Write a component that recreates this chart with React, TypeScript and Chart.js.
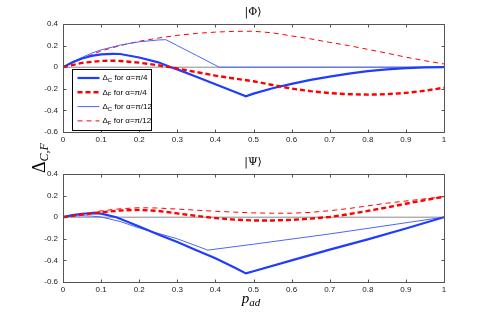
import React, { useEffect, useRef } from "react";
import { Chart, registerables } from "chart.js";
Chart.register(...registerables);

// ---------- data: |Φ> panel ----------
const phiC4X = [0, 0.025, 0.05, 0.075, 0.1, 0.13, 0.15, 0.2, 0.25, 0.28, 0.3, 0.35, 0.4, 0.45, 0.48, 0.5, 0.55, 0.6, 0.65, 0.7, 0.75, 0.8, 0.85, 0.9, 0.95, 1];
const phiC4Y = [0, 0.045, 0.08, 0.105, 0.118, 0.124, 0.122, 0.09, 0.045, 0.005, -0.02, -0.088, -0.158, -0.228, -0.27, -0.245, -0.195, -0.155, -0.118, -0.087, -0.06, -0.037, -0.02, -0.008, -0.002, 0];

const phiF4X = [0, 0.05, 0.1, 0.13, 0.15, 0.2, 0.25, 0.3, 0.35, 0.4, 0.45, 0.5, 0.55, 0.6, 0.65, 0.7, 0.75, 0.8, 0.85, 0.9, 0.95, 1];
const phiF4Y = [0, 0.04, 0.058, 0.06, 0.058, 0.042, 0.018, -0.012, -0.045, -0.078, -0.105, -0.13, -0.165, -0.198, -0.222, -0.24, -0.25, -0.254, -0.25, -0.238, -0.218, -0.19];

const phiC12X = [0, 0.025, 0.05, 0.075, 0.1, 0.15, 0.2, 0.25, 0.27, 0.3, 0.35, 0.41, 0.5, 0.6, 0.7, 0.8, 0.9, 1];
const phiC12Y = [0, 0.05, 0.09, 0.13, 0.16, 0.205, 0.235, 0.252, 0.255, 0.2, 0.11, 0, 0, 0, 0, 0, 0, 0];

const phiF12X = [0, 0.05, 0.1, 0.15, 0.2, 0.25, 0.3, 0.35, 0.4, 0.45, 0.5, 0.55, 0.6, 0.65, 0.7, 0.75, 0.8, 0.85, 0.9, 0.95, 1];
const phiF12Y = [0, 0.08, 0.15, 0.2, 0.24, 0.27, 0.295, 0.313, 0.325, 0.332, 0.333, 0.318, 0.29, 0.262, 0.23, 0.2, 0.165, 0.13, 0.093, 0.06, 0.03];

// ---------- data: |Ψ> panel ----------
const psiC4X = [0, 0.025, 0.05, 0.08, 0.1, 0.14, 0.2, 0.25, 0.3, 0.35, 0.4, 0.45, 0.48, 0.5, 0.6, 0.7, 0.8, 0.9, 1];
const psiC4Y = [0, 0.02, 0.032, 0.037, 0.033, 0, -0.087, -0.16, -0.23, -0.305, -0.38, -0.465, -0.52, -0.5, -0.4, -0.3, -0.205, -0.105, 0];

const psiC12X = [0, 0.025, 0.05, 0.075, 0.1, 0.15, 0.2, 0.25, 0.3, 0.35, 0.38, 0.5, 0.7, 1];
const psiC12Y = [0, 0.01, 0.013, 0.01, 0.002, -0.04, -0.1, -0.15, -0.2, -0.265, -0.305, -0.25, -0.155, 0];

const psiF4X = [0, 0.05, 0.1, 0.15, 0.2, 0.25, 0.3, 0.35, 0.4, 0.45, 0.5, 0.55, 0.6, 0.65, 0.7, 0.75, 0.8, 0.85, 0.9, 0.95, 1];
const psiF4Y = [0, 0.025, 0.045, 0.062, 0.068, 0.058, 0.035, 0.012, -0.008, -0.022, -0.03, -0.03, -0.025, -0.013, 0.002, 0.028, 0.058, 0.09, 0.125, 0.158, 0.19];

const psiF12X = [0, 0.05, 0.1, 0.15, 0.2, 0.25, 0.3, 0.35, 0.4, 0.45, 0.5, 0.55, 0.6, 0.65, 0.7, 0.75, 0.8, 0.85, 0.9, 0.95, 1];
const psiF12Y = [0, 0.03, 0.058, 0.078, 0.088, 0.085, 0.075, 0.065, 0.055, 0.047, 0.04, 0.037, 0.037, 0.045, 0.06, 0.08, 0.105, 0.13, 0.15, 0.17, 0.19];

const zeroX = [0, 1];
const zeroY = [0, 0];

// axes
const xMin = 0, xMax = 1, xStep = 0.1;
const yMin = -0.6, yMax = 0.4, yStep = 0.2;

// legend labels: main symbol, subscript, rest
const legendMain = ["Δ", "Δ", "Δ", "Δ"];
const legendSub = ["C", "F", "C", "F"];
const legendRest = [" for α=π/4", " for α=π/4", " for α=π/12", " for α=π/12"];

const BLUE = "#1f3cff";
const BLUE_THIN = "#4a66ff";
const RED = "#ff0000";

const pts = (xs: number[], ys: number[]) => xs.map((x, i) => ({ x, y: ys[i] }));

function makeDatasets(c4x, c4y, f4x, f4y, c12x, c12y, f12x, f12y) {
  return [
    { data: pts(c4x, c4y), borderColor: BLUE, borderWidth: 2.2, borderDash: [], order: 2 },
    { data: pts(f4x, f4y), borderColor: RED, borderWidth: 2.4, borderDash: [5, 3], order: 1 },
    { data: pts(c12x, c12y), borderColor: BLUE_THIN, borderWidth: 1, borderDash: [], order: 3 },
    { data: pts(f12x, f12y), borderColor: RED, borderWidth: 1, borderDash: [5, 4], order: 4 },
    { data: pts(zeroX, zeroY), borderColor: "#8c8c8c", borderWidth: 1, borderDash: [], order: 10 },
  ].map((d) => ({ ...d, pointRadius: 0, tension: 0, fill: false }));
}

const fmt = (v: number) => {
  const r = Math.round(v * 10) / 10;
  return r === 0 ? "0" : String(r);
};

const framePlugin = {
  id: "frame",
  afterDatasetsDraw(chart: any) {
    const { ctx, chartArea: a, scales } = chart;
    ctx.save();
    ctx.strokeStyle = "#555";
    ctx.lineWidth = 1;
    const L = Math.round(a.left) + 0.5, R = Math.round(a.right) + 0.5;
    const T = Math.round(a.top) + 0.5, B = Math.round(a.bottom) + 0.5;
    ctx.strokeRect(L, T, R - L, B - T);
    ctx.beginPath();
    scales.x.ticks.forEach((t: any) => {
      const p = Math.round(scales.x.getPixelForValue(t.value)) + 0.5;
      ctx.moveTo(p, B); ctx.lineTo(p, B - 3);
      ctx.moveTo(p, T); ctx.lineTo(p, T + 3);
    });
    scales.y.ticks.forEach((t: any) => {
      const p = Math.round(scales.y.getPixelForValue(t.value)) + 0.5;
      ctx.moveTo(L, p); ctx.lineTo(L + 3, p);
      ctx.moveTo(R, p); ctx.lineTo(R - 3, p);
    });
    ctx.stroke();
    ctx.restore();
  },
};

const legendPlugin = {
  id: "customLegend",
  afterDraw(chart: any) {
    const { ctx, chartArea: a } = chart;
    const ds = chart.data.datasets;
    const bx = Math.round(a.left + 9) + 0.5, by = Math.round(a.top + 45) + 0.5;
    const bw = 79, bh = 61;
    ctx.save();
    ctx.fillStyle = "#fff";
    ctx.fillRect(bx, by, bw, bh);
    ctx.strokeStyle = "#000";
    ctx.lineWidth = 1;
    ctx.strokeRect(bx, by, bw, bh);
    for (let i = 0; i < 4; i++) {
      const y = by + 8.5 + i * 14.3;
      const d = ds[i];
      ctx.beginPath();
      ctx.strokeStyle = d.borderColor;
      ctx.lineWidth = d.borderWidth;
      ctx.setLineDash(d.borderDash || []);
      ctx.moveTo(bx + 5, y);
      ctx.lineTo(bx + 27, y);
      ctx.stroke();
      ctx.setLineDash([]);
      ctx.fillStyle = "#000";
      ctx.textBaseline = "middle";
      ctx.font = "8px 'Liberation Sans', Arial, sans-serif";
      let tx = bx + 30;
      ctx.fillText(legendMain[i], tx, y);
      tx += ctx.measureText(legendMain[i]).width;
      ctx.font = "6px 'Liberation Sans', Arial, sans-serif";
      ctx.fillText(legendSub[i], tx, y + 2.5);
      tx += ctx.measureText(legendSub[i]).width;
      ctx.font = "8px 'Liberation Sans', Arial, sans-serif";
      ctx.fillText(legendRest[i], tx, y);
    }
    ctx.restore();
  },
};

function makeConfig(datasets: any[], withLegend: boolean) {
  return {
    type: "line" as const,
    data: { datasets },
    plugins: withLegend ? [framePlugin, legendPlugin] : [framePlugin],
    options: {
      animation: false,
      responsive: false,
      layout: { padding: { left: 0, right: 47, top: 24, bottom: 0 } },
      plugins: { legend: { display: false }, tooltip: { enabled: false }, title: { display: false } },
      scales: {
        x: {
          type: "linear",
          min: xMin,
          max: xMax,
          grid: { display: false, drawTicks: false },
          border: { display: false },
          afterFit: (s: any) => { s.height = 18; },
          ticks: {
            stepSize: xStep,
            padding: 3,
            color: "#222",
            font: { family: "'Liberation Sans', Arial, sans-serif", size: 8 },
            callback: (v: any) => fmt(Number(v)),
            maxRotation: 0,
            autoSkip: false,
          },
        },
        y: {
          type: "linear",
          min: yMin,
          max: yMax,
          grid: { display: false, drawTicks: false },
          border: { display: false },
          afterFit: (s: any) => { s.width = 63; },
          ticks: {
            stepSize: yStep,
            padding: 5,
            color: "#222",
            font: { family: "'Liberation Sans', Arial, sans-serif", size: 8 },
            callback: (v: any) => fmt(Number(v)),
            autoSkip: false,
          },
        },
      },
    },
  };
}

export default function App() {
  const topRef = useRef<HTMLCanvasElement>(null);
  const botRef = useRef<HTMLCanvasElement>(null);

  useEffect(() => {
    const c1 = new Chart(
      topRef.current!,
      makeConfig(makeDatasets(phiC4X, phiC4Y, phiF4X, phiF4Y, phiC12X, phiC12Y, phiF12X, phiF12Y), true) as any
    );
    const c2 = new Chart(
      botRef.current!,
      makeConfig(makeDatasets(psiC4X, psiC4Y, psiF4X, psiF4Y, psiC12X, psiC12Y, psiF12X, psiF12Y), false) as any
    );
    return () => { c1.destroy(); c2.destroy(); };
  }, []);

  const serif = "'Liberation Serif', 'DejaVu Serif', serif";
  const titleSerif = "'DejaVu Serif', 'Liberation Serif', serif";
  return (
    <div style={{ position: "absolute", left: 0, top: 0, width: 491, height: 317, background: "#fff", overflow: "hidden" }}>
      <canvas ref={topRef} width={491} height={150} style={{ position: "absolute", left: 0, top: 0, display: "block" }} />
      <canvas ref={botRef} width={491} height={150} style={{ position: "absolute", left: 0, top: 150, display: "block" }} />
      <div style={{ position: "absolute", left: 253, top: 11, transform: "translate(-50%,-50%)", fontFamily: titleSerif, fontSize: 11, whiteSpace: "nowrap", lineHeight: 1 }}>|Φ⟩</div>
      <div style={{ position: "absolute", left: 253, top: 161, transform: "translate(-50%,-50%)", fontFamily: titleSerif, fontSize: 11, whiteSpace: "nowrap", lineHeight: 1 }}>|Ψ⟩</div>
      <div style={{ position: "absolute", left: 39, top: 158, transform: "translate(-50%,-50%) rotate(-90deg)", fontFamily: serif, whiteSpace: "nowrap", lineHeight: 1 }}>
        <span style={{ fontSize: 18 }}>Δ</span>
        <span style={{ fontSize: 12, fontStyle: "italic", position: "relative", top: 3 }}>C,F</span>
      </div>
      <div style={{ position: "absolute", left: 251, top: 298, transform: "translate(-50%,-50%)", fontFamily: serif, whiteSpace: "nowrap", lineHeight: 1 }}>
        <span style={{ fontSize: 15, fontStyle: "italic" }}>p</span>
        <span style={{ fontSize: 11, fontStyle: "italic", position: "relative", top: 3 }}>ad</span>
      </div>
    </div>
  );
}
